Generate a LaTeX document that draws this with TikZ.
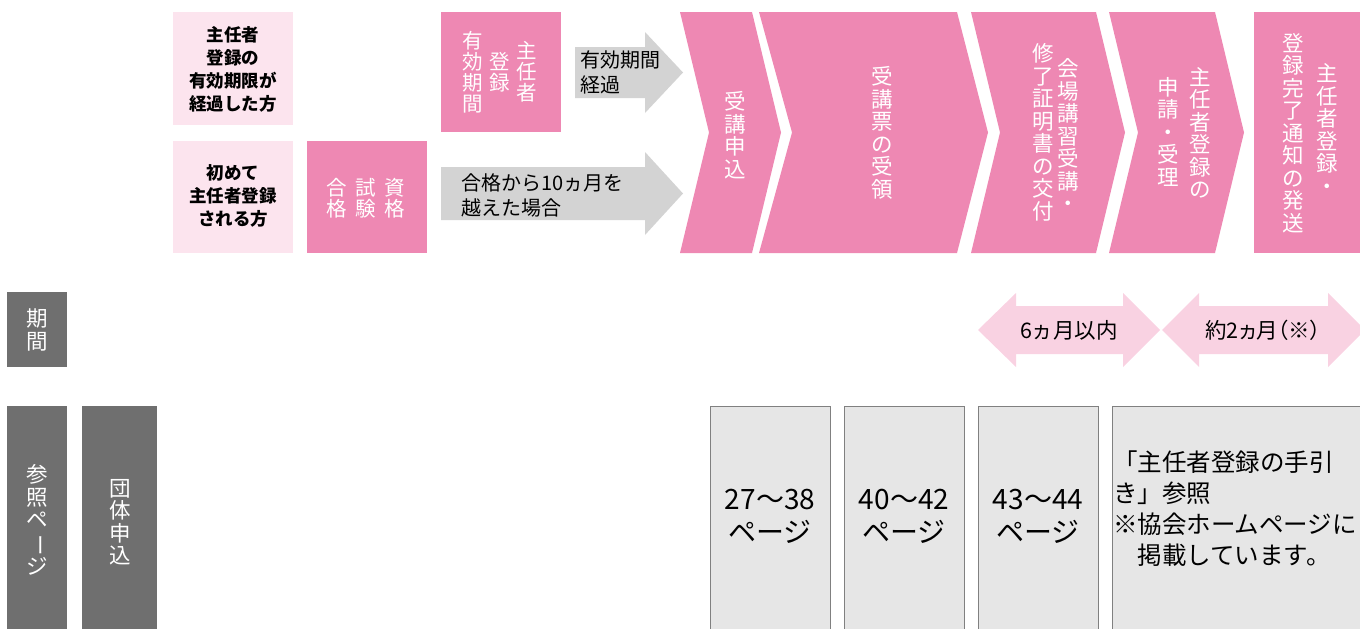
\documentclass[tikz,border=0pt]{standalone}
\usepackage{fontspec}
\newfontfamily\cjk{Noto Sans CJK JP}
\newfontfamily\cjkp[RawFeature=+palt]{Noto Sans CJK JP}
\definecolor{pinkA}{HTML}{EE88B3}
\definecolor{pinkL}{HTML}{FCE4EE}
\definecolor{pinkP}{HTML}{F9D2E2}
\definecolor{grayA}{HTML}{D3D3D3}
\definecolor{grayD}{HTML}{6F6F6F}
\definecolor{grayB}{HTML}{E6E6E6}
\definecolor{grayE}{HTML}{808080}
\tikzset{
  tate/.style={text=white, align=center, inner sep=0pt, font=\cjk\fontsize{21.5}{22.5}\selectfont},
  tatesm/.style={text=white, align=center, inner sep=0pt, font=\cjk\fontsize{20.5}{21}\selectfont},
  whobox/.style={fill=pinkL, draw=none},
  pinkbox/.style={fill=pinkA, draw=none},
  darkbox/.style={fill=grayD, draw=none},
  refbox/.style={fill=grayB, draw=grayE, line width=0.8pt},
  boldtxt/.style={align=center, inner sep=0pt, font=\cjk\bfseries\fontsize{17.5}{23}\selectfont},
  graytxt/.style={align=left, inner sep=0pt, anchor=west, font=\cjk\fontsize{20}{24.5}\selectfont},
  pertxt/.style={inner sep=0pt, font=\cjk\fontsize{21.5}{24}\selectfont},
  reftxt/.style={align=center, inner sep=0pt, font=\cjk\fontsize{28}{33}\selectfont},
}
\begin{document}
\begin{tikzpicture}[x=1pt,y=-1pt]
\useasboundingbox (0,0) rectangle (1360,629);
% who boxes
\fill[whobox] (173,12) rectangle (293,125);
\node[boldtxt] (whoA) at (233,69.5) {主任者\\登録の\\有効期限が\\経過した方};
\fill[whobox] (173,141) rectangle (293,253);
\node[boldtxt] (whoB) at (233,196) {初めて\\主任者登録\\される方};
% exam box
\fill[pinkbox] (307,141) rectangle (427,253);
\node[tatesm] (examR) at (395,198) {資\\格};
\node[tatesm] (examM) at (366,198) {試\\験};
\node[tatesm] (examL) at (337,198) {合\\格};
% validity box
\fill[pinkbox] (441,12) rectangle (561,132);
\node[tatesm] (valR) at (527,72) {主\\任\\者};
\node[tatesm] (valM) at (500,72) {登\\録};
\node[tatesm] (valL) at (473,72) {有\\効\\期\\間};
% gray arrows
\fill[grayA] (575,47) -- (645,47) -- (645,32) -- (683,72.5) -- (645,113) -- (645,98) -- (575,98) -- cycle;
\node[graytxt] (arrA) at (580,72.5) {有効期間\\経過};
\fill[grayA] (441,167) -- (645,167) -- (645,152) -- (683,193.5) -- (645,235) -- (645,220) -- (441,220) -- cycle;
\node[graytxt] (arrB) at (461,195.5) {合格から10ヵ月を\\越えた場合};
% chevrons
\fill[pinkA] (680,12) -- (752,12) -- (781,132.5) -- (752,253) -- (680,253) -- (709,132.5) -- cycle;
\node[tate] (s1) at (735,135) {受\\講\\申\\込};
\fill[pinkA] (759,12) -- (957,12) -- (988,132.5) -- (957,253) -- (759,253) -- (792,132.5) -- cycle;
\node[tate] (s2) at (882,133) {受\\講\\票\\の\\受\\領};
\fill[pinkA] (971,12) -- (1096,12) -- (1125,132.5) -- (1096,253) -- (971,253) -- (1000,132.5) -- cycle;
\node[tate] (s3R) at (1068,135) {会\\場\\講\\習\\受\\講\\・};
\node[tate] (s3L) at (1043,132.5) {修\\了\\証\\明\\書\\の\\交\\付};
\fill[pinkA] (1109,12) -- (1215,12) -- (1244,132.5) -- (1215,253) -- (1109,253) -- (1138,132.5) -- cycle;
\node[tate] (s4R) at (1200,133) {主\\任\\者\\登\\録\\の};
\node[tate] (s4L) at (1168,131.5) {申\\請\\・\\受\\理};
\fill[pinkA] (1254,12) rectangle (1365,253);
\node[tate] (s5R) at (1327,129) {主\\任\\者\\登\\録\\・};
\node[tate] (s5L) at (1293,133) {登\\録\\完\\了\\通\\知\\の\\発\\送};
% row labels
\fill[darkbox] (7,292) rectangle (67,367);
\node[tate] (lblP) at (37,330) {期\\間};
\fill[darkbox] (7,406) rectangle (67,640);
\node[tate] (lblR) at (37,520) {参\\照\\ペ\\\rotatebox[origin=c]{-90}{ー}\\ジ};
\fill[darkbox] (82,406) rectangle (157,640);
\node[tate] (lblG) at (120,522) {団\\体\\申\\込};
% period arrows
\fill[pinkP] (978,330) -- (1016,293) -- (1016,306) -- (1123,306) -- (1123,293) -- (1160,330) -- (1123,367) -- (1123,354) -- (1016,354) -- (1016,367) -- cycle;
\node[pertxt] (per1) at (1069,330) {6ヵ月以内};
\fill[pinkP] (1162,330) -- (1199,293) -- (1199,306) -- (1328,306) -- (1328,293) -- (1365,330) -- (1328,367) -- (1328,354) -- (1199,354) -- (1199,367) -- cycle;
\node[pertxt, font=\cjkp\fontsize{21.5}{24}\selectfont] (per2) at (1263,330) {約2ヵ月（※）};
% reference boxes
\draw[refbox] (710,406) rectangle (830,645);
\node[reftxt] (r1) at (770,516) {27～38\\ページ};
\draw[refbox] (844,406) rectangle (964,645);
\node[reftxt] (r2) at (904,516) {40～42\\ページ};
\draw[refbox] (978,406) rectangle (1098,645);
\node[reftxt] (r3) at (1038,516) {43～44\\ページ};
\draw[refbox] (1112,406) rectangle (1375,645);
\node[align=left, inner sep=0pt, anchor=west, font=\cjk\fontsize{24.5}{31}\selectfont] (r4) at (1113,509) {「主任者登録の手引\\き」参照\\※協会ホームページに\\　掲載しています。};
\end{tikzpicture}
\end{document}
